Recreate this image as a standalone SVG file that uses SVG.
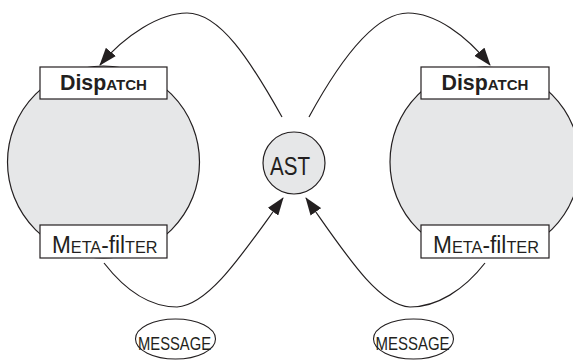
<svg xmlns="http://www.w3.org/2000/svg" width="573" height="361" viewBox="0 0 573 361">
<style>
.sphere{fill:#e6e7e8;stroke:#231f20;stroke-width:1.2}
.box{fill:#ffffff;stroke:#231f20;stroke-width:1.2}
.edge{fill:none;stroke:#231f20;stroke-width:1.2}
.msg{fill:#ffffff;stroke:#231f20;stroke-width:1.1}
.lbl{font-family:"Liberation Sans",Arial,sans-serif;fill:#231f20}
.bold{font-weight:bold}
</style>
<defs>
<marker id="arrow" markerUnits="userSpaceOnUse" viewBox="0 0 18 13" refX="17" refY="6.5" markerWidth="18" markerHeight="13" orient="auto">
<path d="M0,0 L18,6.5 L0,13 z" fill="#231f20"/>
</marker>
</defs>
<rect width="573" height="361" fill="#ffffff"/>
<g id="left-sphere"><circle class="sphere" cx="103.5" cy="162" r="96"/></g>
<g id="right-sphere"><circle class="sphere" cx="485" cy="162" r="95"/></g>
<g id="left-dispatch">
<rect class="box" x="40" y="67" width="127" height="32"/>
<text class="lbl bold" x="60" y="90" font-size="22" textLength="87" lengthAdjust="spacingAndGlyphs">Disp<tspan font-size="15.5">ATCH</tspan></text>
</g>
<g id="left-metafilter">
<rect class="box" x="40" y="225" width="127" height="33"/>
<text class="lbl" x="52" y="253" font-size="23" textLength="105.5" lengthAdjust="spacingAndGlyphs">M<tspan font-size="16.5">ETA</tspan>-fil<tspan font-size="16.5">TER</tspan></text>
</g>
<g id="right-dispatch">
<rect class="box" x="421" y="67" width="128" height="32"/>
<text class="lbl bold" x="441.5" y="90" font-size="22" textLength="87" lengthAdjust="spacingAndGlyphs">Disp<tspan font-size="15.5">ATCH</tspan></text>
</g>
<g id="right-metafilter">
<rect class="box" x="421" y="225" width="128" height="33"/>
<text class="lbl" x="433" y="253" font-size="23" textLength="106" lengthAdjust="spacingAndGlyphs">M<tspan font-size="16.5">ETA</tspan>-fil<tspan font-size="16.5">TER</tspan></text>
</g>
<g id="ast">
<circle class="sphere" cx="294" cy="163" r="31"/>
<text class="lbl" x="270" y="175" font-size="25" textLength="40" lengthAdjust="spacingAndGlyphs">AST</text>
</g>
<g id="left-message">
<ellipse class="msg" cx="175.5" cy="339" rx="40" ry="20"/>
<text class="lbl" x="138" y="350" font-size="18" textLength="73" lengthAdjust="spacingAndGlyphs">MESSAGE</text>
</g>
<g id="right-message">
<ellipse class="msg" cx="413.5" cy="339" rx="40" ry="20"/>
<text class="lbl" x="375.5" y="350" font-size="18" textLength="74" lengthAdjust="spacingAndGlyphs">MESSAGE</text>
</g>
<g id="connectors">
<path class="edge" marker-end="url(#arrow)" d="M282,117 C250,60 220,13 187,13 C160,13 125,35 100,65"/>
<path class="edge" marker-end="url(#arrow)" d="M309,117 C340,60 375,13 408,13 C435,13 466,35 490,65"/>
<path class="edge" marker-end="url(#arrow)" d="M104,263 C125,290 150,307 177,307 C210,305 245,250 283,198"/>
<path class="edge" marker-end="url(#arrow)" d="M485,263 C464,290 437,307 410,307 C377,305 343,250 306,198"/>
</g>
</svg>
